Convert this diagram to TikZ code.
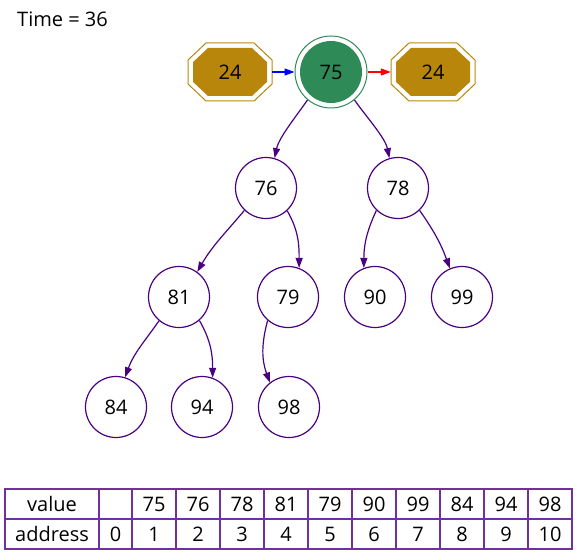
\documentclass[tikz,border=0pt]{standalone}
\usepackage{fontspec}
\setmainfont{Open Sans}
\usetikzlibrary{arrows.meta}
\definecolor{heapline}{RGB}{75,0,130}
\definecolor{rootgreen}{RGB}{46,139,87}
\definecolor{gold}{RGB}{184,134,11}
\definecolor{gridpurple}{RGB}{112,48,160}
\begin{document}
\begin{tikzpicture}[x=1pt,y=-1pt,
  every node/.style={font=\fontsize{20}{23}\selectfont, inner sep=0pt},
  heapnode/.style={circle, draw=heapline, line width=1.2pt, minimum size=61pt},
  link/.style={draw=heapline, line width=1.2pt, -{Triangle[length=10pt,width=7pt]}},
  side/.style={line width=1.2pt, -{Triangle[length=10pt,width=7pt]}},
  octbox/.style={rectangle, minimum width=84pt, minimum height=58pt},
  grid/.style={draw=gridpurple, line width=1.5pt}]
\useasboundingbox (0,0) rectangle (577,556);

\node[anchor=west] (time) at (17,19) {Time = 36};

% root: double circle
\node[circle, draw=rootgreen, line width=1pt, minimum size=72pt] (n75) at (331,72) {};
\node[circle, fill=rootgreen, minimum size=62pt] (n75in) at (n75) {75};

% neighbours as double octagons
\node[octbox] (oL) at (230,72) {};
\node[octbox] (oR) at (433,72) {};
\foreach \o in {oL,oR}{
  \draw[gold, line width=1pt, shift={(\o.center)}]
    (-24,-29) -- (24,-29) -- (42,-12) -- (42,12) -- (24,29) -- (-24,29) -- (-42,12) -- (-42,-12) -- cycle;
  \fill[gold, shift={(\o.center)}]
    (-22,-24) -- (22,-24) -- (37,-9.9) -- (37,9.9) -- (22,24) -- (-22,24) -- (-37,9.9) -- (-37,-9.9) -- cycle;
}
\node at (oL) {24};
\node at (oR) {24};

\draw[side, blue] (oL.east) -- (n75.west);
\draw[side, red] (n75.east) -- (oR.west);

% heap nodes
\node[heapnode] (n76) at (266,188) {76};
\node[heapnode] (n78) at (398,188) {78};
\node[heapnode] (n81) at (179,297) {81};
\node[heapnode] (n79) at (288,297) {79};
\node[heapnode] (n90) at (375,297) {90};
\node[heapnode] (n99) at (462,297) {99};
\node[heapnode] (n84) at (116,407) {84};
\node[heapnode] (n94) at (202,407) {94};
\node[heapnode] (n98) at (289,407) {98};

% parent -> child links
\draw[link] (n75.-130) to[out=-125, in=78, looseness=0.8] (n76.74);
\draw[link] (n75.-50) to[out=-55, in=102, looseness=0.8] (n78.106);
\draw[link] (n76.-134) to[out=-130, in=60] (n81.54);
\draw[link] (n76.-47) to[out=-60, in=90] (n79.69);
\draw[link] (n78.-134) to[out=-115, in=90] (n90.111);
\draw[link] (n78.-46) to[out=-55, in=110] (n99.113);
\draw[link] (n81.-130) to[out=-125, in=70] (n84.73);
\draw[link] (n81.-49) to[out=-60, in=90] (n94.70);
\draw[link] (n79.-131) to[out=-105, in=110] (n98.128);

% array table
\draw[grid] (5,489) rectangle (572,549);
\draw[grid] (5,519) -- (572,519);
\foreach \x in {99,132,176,220,264,308,352,396,440,484,528}
  \draw[grid] (\x,489) -- (\x,549);
\node (hv) at (52,504) {value};
\node (ha) at (52,534) {address};
\node (a0) at (115.5,534) {0};
\foreach \v [count=\i] in {75,76,78,81,79,90,99,84,94,98}{
  \node (v\i) at ({110+44*\i},504) {\v};
  \node (a\i) at ({110+44*\i},534) {\i};
}
\end{tikzpicture}
\end{document}
